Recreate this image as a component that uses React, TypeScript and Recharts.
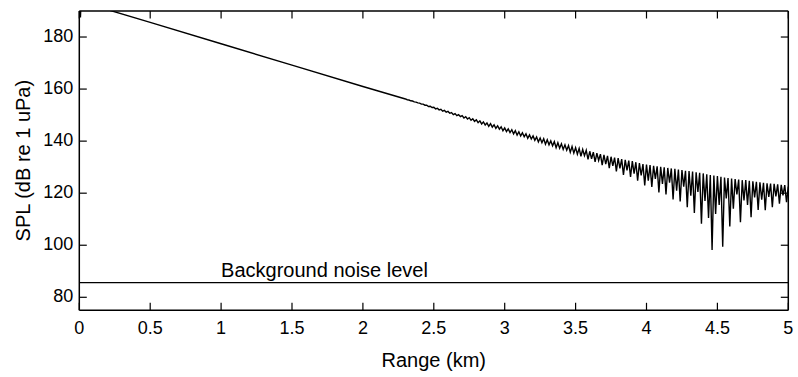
import React from "react";
import {
  ComposedChart,
  Line,
  XAxis,
  YAxis,
  ReferenceLine,
  ReferenceDot,
} from "recharts";

// Near-field / smooth part of the propagation curve
const smoothRangeKm = [0, 0.008, 0.016, 0.2, 0.5, 1.0, 1.5, 2.0];
const smoothSplDb = [200, 187.5, 199, 190.5, 185.6, 177.4, 169.2, 161.0];

// Interference (oscillating) part, sampled every 0.0125 km from 2.3 km
const oscStartKm = 2.3;
const oscStepKm = 0.0125;
const oscSplDb = [
  156.2, 155.9, 155.8, 155.5, 155.4, 155.1, 155.0, 154.7,
  154.6, 154.2, 154.2, 153.8, 153.8, 153.3, 153.4, 152.9,
  153.0, 152.4, 152.6, 152.0, 152.2, 151.5, 151.8, 151.1,
  151.4, 150.7, 151.0, 150.2, 150.6, 149.8, 150.2, 149.4,
  149.8, 148.9, 149.4, 148.5, 149.0, 148.0, 148.6, 147.6,
  148.2, 147.1, 147.8, 146.6, 147.4, 146.2, 147.0, 145.7,
  146.7, 145.4, 146.3, 144.9, 145.9, 144.6, 145.5, 144.0,
  145.1, 143.7, 144.7, 143.3, 144.4, 142.8, 144.0, 142.3,
  143.6, 142.0, 143.2, 141.7, 142.8, 141.1, 142.4, 140.8,
  142.0, 140.3, 141.6, 139.7, 141.2, 139.4, 140.9, 138.8,
  140.5, 138.6, 140.1, 138.2, 139.8, 137.5, 139.4, 137.3,
  139.0, 136.8, 138.6, 136.5, 138.3, 135.7, 137.9, 135.4,
  137.5, 135.0, 137.2, 134.2, 136.8, 134.4, 136.5, 133.0,
  136.1, 133.2, 135.8, 132.0, 135.4, 132.6, 135.0, 130.8,
  134.7, 131.2, 134.3, 129.6, 134.0, 130.5, 133.7, 128.4,
  133.5, 129.5, 133.1, 127.0, 132.8, 128.8, 132.5, 126.2,
  132.3, 127.5, 131.9, 124.8, 131.6, 126.8, 131.2, 123.0,
  131.0, 124.8, 130.8, 122.4, 130.5, 125.5, 130.3, 120.3,
  130.1, 123.6, 129.9, 119.5, 129.7, 124.0, 129.5, 117.6,
  129.4, 121.0, 129.1, 116.8, 128.9, 122.5, 128.6, 114.6,
  128.5, 119.0, 128.3, 112.4, 128.0, 120.5, 127.8, 108.3,
  127.6, 117.0, 127.3, 110.5, 127.0, 98.2, 126.8, 112.0,
  126.6, 115.5, 126.3, 99.4, 126.0, 118.0, 125.8, 107.2,
  125.6, 114.0, 125.4, 119.5, 125.2, 108.8, 125.0, 117.2,
  125.0, 115.5, 124.8, 110.8, 124.6, 118.4, 124.4, 113.6,
  124.2, 117.5, 124.0, 113.5, 123.8, 118.6, 123.7, 114.6,
  123.6, 118.8, 123.4, 116.0, 123.2, 119.2, 123.1, 116.5,
  122.5,
];

const noiseLevelDb = 85.6;
const noiseLabel = "Background noise level";
const noiseLabelKm = 1.0;
const noiseLabelDb = 87.7;

const xTicks = [0, 0.5, 1, 1.5, 2, 2.5, 3, 3.5, 4, 4.5, 5];
const yTicks = [80, 100, 120, 140, 160, 180];
const xDomain: [number, number] = [0, 5];
const yDomain: [number, number] = [75, 190];

const xTitle = "Range (km)";
const yTitle = "SPL (dB re 1 uPa)";

const data: { km: number; spl: number }[] = [];
smoothRangeKm.forEach((km, i) => data.push({ km, spl: smoothSplDb[i] }));
oscSplDb.forEach((spl, i) =>
  data.push({ km: +(oscStartKm + i * oscStepKm).toFixed(4), spl })
);

const FONT = "'Liberation Sans', Arial, sans-serif";
const TICK_LEN = 7.5;
const TICK_FS = 18;

const BottomTick = (p: any) => (
  <g>
    <line x1={p.x} x2={p.x} y1={p.y} y2={p.y - TICK_LEN} stroke="#000" strokeWidth={1.2} />
    <text x={p.x} y={p.y + 23.7} textAnchor="middle" fontSize={TICK_FS} fontFamily={FONT} fill="#000">
      {p.payload.value}
    </text>
  </g>
);
const TopTick = (p: any) => (
  <line x1={p.x} x2={p.x} y1={p.y} y2={p.y + TICK_LEN} stroke="#000" strokeWidth={1.2} />
);
const LeftTick = (p: any) => (
  <g>
    <line x1={p.x} x2={p.x + TICK_LEN} y1={p.y} y2={p.y} stroke="#000" strokeWidth={1.2} />
    <text x={p.x - 6} y={p.y + 5} textAnchor="end" fontSize={TICK_FS} fontFamily={FONT} fill="#000">
      {p.payload.value}
    </text>
  </g>
);
const RightTick = (p: any) => (
  <line x1={p.x} x2={p.x - TICK_LEN} y1={p.y} y2={p.y} stroke="#000" strokeWidth={1.2} />
);

const NoiseText = (p: any) => {
  const vb = p.viewBox || {};
  return (
    <text x={vb.x} y={vb.y} textAnchor="start" fontSize={20} fontFamily={FONT} fill="#000">
      {noiseLabel}
    </text>
  );
};

export default function App() {
  return (
    <div style={{ position: "absolute", left: 0, top: 0, width: 798, height: 377, background: "#fff" }}>
      <ComposedChart
        width={798}
        height={377}
        data={data}
        margin={{ top: 10, right: 8.7, bottom: 36.7, left: 19.3 }}
      >
        <XAxis
          xAxisId="b"
          type="number"
          dataKey="km"
          domain={xDomain}
          ticks={xTicks}
          allowDataOverflow
          height={30}
          tickSize={0}
          tickMargin={0}
          tick={<BottomTick />}
          axisLine={{ stroke: "#000", strokeWidth: 1.5 }}
          tickLine={false}
          interval={0}
          label={{ value: xTitle, position: "insideBottom", offset: -27, fontSize: 20, fontFamily: FONT, fill: "#000" }}
        />
        <XAxis
          xAxisId="t"
          orientation="top"
          type="number"
          dataKey="km"
          domain={xDomain}
          ticks={xTicks}
          allowDataOverflow
          height={1}
          tickSize={0}
          tickMargin={0}
          tick={<TopTick />}
          axisLine={{ stroke: "#000", strokeWidth: 1.5 }}
          tickLine={false}
          interval={0}
        />
        <YAxis
          yAxisId="l"
          type="number"
          domain={yDomain}
          ticks={yTicks}
          allowDataOverflow
          width={60}
          tickSize={0}
          tickMargin={0}
          tick={<LeftTick />}
          axisLine={{ stroke: "#000", strokeWidth: 1.5 }}
          tickLine={false}
          interval={0}
          label={{ value: yTitle, angle: -90, position: "insideLeft", offset: 4, fontSize: 20, fontFamily: FONT, fill: "#000", style: { textAnchor: "middle" } }}
        />
        <YAxis
          yAxisId="r"
          orientation="right"
          type="number"
          domain={yDomain}
          ticks={yTicks}
          allowDataOverflow
          width={1}
          tickSize={0}
          tickMargin={0}
          tick={<RightTick />}
          axisLine={{ stroke: "#000", strokeWidth: 1.5 }}
          tickLine={false}
          interval={0}
        />
        <ReferenceLine xAxisId="b" yAxisId="l" y={noiseLevelDb} stroke="#000" strokeWidth={1.3} />
        <ReferenceDot
          xAxisId="b"
          yAxisId="l"
          x={noiseLabelKm}
          y={noiseLabelDb}
          r={0}
          fill="none"
          stroke="none"
          label={<NoiseText />}
        />
        <Line
          xAxisId="b"
          yAxisId="l"
          type="linear"
          dataKey="spl"
          stroke="#000"
          strokeWidth={1.4}
          dot={false}
          isAnimationActive={false}
        />
      </ComposedChart>
    </div>
  );
}
